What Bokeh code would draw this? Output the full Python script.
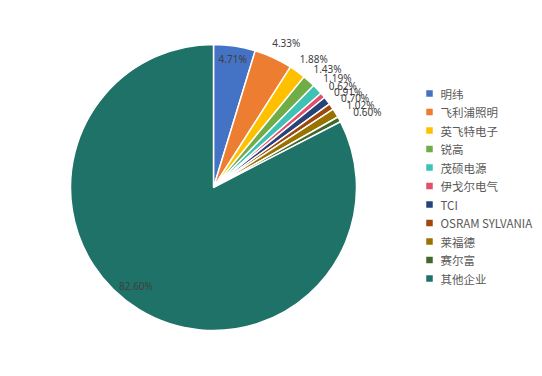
import math
from bokeh.plotting import figure
from bokeh.models import Range1d, ColumnDataSource
from bokeh.core.properties import value
from bokeh.embed import file_html
from bokeh.resources import INLINE

# ---- data ----
categories = ["明纬", "飞利浦照明", "英飞特电子", "锐高", "茂硕电源", "伊戈尔电气",
              "TCI", "OSRAM SYLVANIA", "莱福德", "赛尔富", "其他企业"]
shares = [4.71, 4.33, 1.88, 1.43, 1.19, 0.62, 0.91, 0.70, 1.02, 0.60, 82.60]
share_labels = ["4.71%", "4.33%", "1.88%", "1.43%", "1.19%", "0.62%", "0.91%",
                "0.70%", "1.02%", "0.60%", "82.60%"]

# ---- style ----
colors = ["#4472C4", "#ED7D31", "#FFC000", "#70AD47", "#3FC1B4", "#E0506A",
          "#264478", "#9E480E", "#997300", "#43682B", "#1E7268"]
W, H = 542, 376
CX, CY, R = 213, H - 187, 143
label_r = [0.91, 1.13, 1.14, 1.15, 1.155, 1.15, 1.155, 1.17, 1.18, 1.20, 0.875]
label_shift_deg = [0, 2, 2, 2, 2, 2, 2, 2.3, 2, 2.2, 7]

total = sum(shares)
starts, ends, lx, ly = [], [], [], []
cum = 0.0
for i, s in enumerate(shares):
    a0 = math.pi / 2 - 2 * math.pi * cum / total
    cum += s
    a1 = math.pi / 2 - 2 * math.pi * cum / total
    starts.append(a0)
    ends.append(a1)
    mid = (a0 + a1) / 2 - math.radians(label_shift_deg[i])
    lx.append(CX + R * label_r[i] * math.cos(mid))
    ly.append(CY + R * label_r[i] * math.sin(mid))

src = ColumnDataSource(dict(cat=categories, start=starts, end=ends, color=colors,
                            lx=lx, ly=ly, lab=share_labels,
                            x=[CX] * len(shares), y=[CY] * len(shares)))

p = figure(width=W, height=H, output_backend="svg", toolbar_location=None,
           x_range=Range1d(0, W), y_range=Range1d(0, H), min_border=0)
p.axis.visible = False
p.grid.visible = False
p.outline_line_color = None
p.background_fill_color = "white"

p.wedge(x="x", y="y", radius=R, radius_units="screen", start_angle="start",
        end_angle="end", direction="clock", fill_color="color",
        line_color="white", line_width=1.5, source=src)

p.text(x="lx", y="ly", text="lab", source=src, text_align="center",
       text_baseline="middle", text_font=value("Noto Sans"),
       text_font_size="10px", text_color="#404040")

# ---- legend ----
LX, LY0, STEP = 429, H - 93, 18.5
leg_x = [LX] * len(categories)
leg_y = [LY0 - i * STEP for i in range(len(categories))]
lsrc = ColumnDataSource(dict(x=leg_x, y=leg_y, tx=[LX + 11] * len(categories),
                             cat=categories, color=colors))
p.scatter(x="x", y="y", marker="square", size=6.5, fill_color="color",
          line_color=None, source=lsrc)
p.text(x="tx", y="y", text="cat", source=lsrc, text_align="left",
       text_baseline="middle", text_font=value("Noto Sans CJK SC"),
       text_font_size="11.5px", text_color="#595959")

open("out.html", "w").write(file_html(p, INLINE))
